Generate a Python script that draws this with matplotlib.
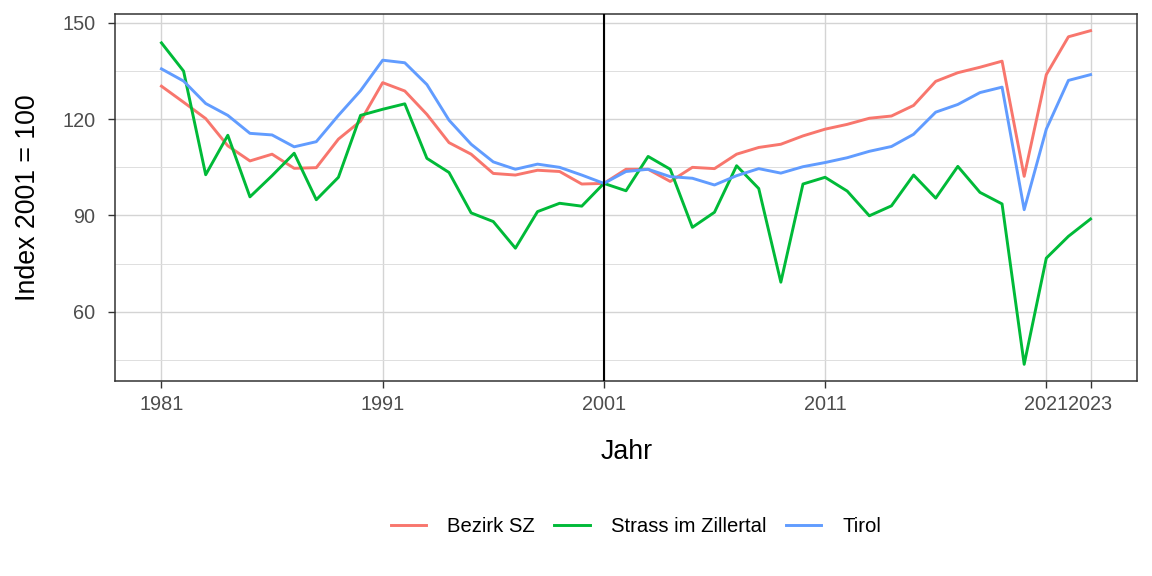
import matplotlib
matplotlib.use("Agg")
import matplotlib.pyplot as plt
from matplotlib.ticker import FixedLocator

years = list(range(1981, 2024))

bezirk_sz = [130.3, 125.3, 120.2, 111.7, 107.0, 109.1, 104.7, 104.9, 113.8, 119.4,
             131.4, 128.8, 121.5, 112.7, 109.1, 103.1, 102.6, 104.1, 103.7, 99.8,
             100.0, 104.4, 104.4, 100.6, 105.0, 104.6, 109.1, 111.2, 112.2, 114.8,
             116.9, 118.4, 120.3, 121.0, 124.3, 131.8, 134.5, 136.2, 138.1, 102.2,
             133.9, 145.7, 147.6]

strass = [143.8, 135.0, 102.7, 115.0, 95.8, 102.4, 109.4, 94.9, 101.9, 121.2,
          123.1, 124.8, 107.8, 103.4, 90.8, 88.1, 79.8, 91.2, 93.8, 92.9,
          100.0, 97.7, 108.4, 104.4, 86.3, 91.0, 105.5, 98.4, 69.2, 99.8,
          101.9, 97.6, 89.9, 93.0, 102.6, 95.4, 105.3, 97.2, 93.6, 43.6,
          76.7, 83.5, 88.9]

tirol = [135.7, 131.9, 124.9, 121.2, 115.6, 115.1, 111.4, 113.0, 121.2, 128.9,
         138.4, 137.6, 130.8, 119.7, 112.2, 106.7, 104.4, 106.0, 105.0, 102.6,
         100.0, 103.7, 104.4, 102.1, 101.6, 99.5, 102.4, 104.6, 103.2, 105.2,
         106.5, 108.0, 110.0, 111.5, 115.3, 122.2, 124.6, 128.3, 130.0, 91.8,
         116.9, 132.1, 133.9]

series_names = ["Bezirk SZ", "Strass im Zillertal", "Tirol"]
series_values = [bezirk_sz, strass, tirol]
colors = ["#F8766D", "#00BA38", "#619CFF"]

x_breaks = [1981, 1991, 2001, 2011, 2021, 2023]
y_breaks = [60, 90, 120, 150]
y_minor = [45, 75, 105, 135]
ref_year = 2001

plt.rcParams['font.family'] = ['Liberation Sans', 'DejaVu Sans']

W, H = 1152, 576
fig = plt.figure(figsize=(W/100, H/100), dpi=100)
left, right, top, bottom = 115, 1137, 14, 381
ax = fig.add_axes([left/W, 1-bottom/H, (right-left)/W, (bottom-top)/H])

for name, vals, c in zip(series_names, series_values, colors):
    ax.plot(years, vals, color=c, lw=2.1, label=name, solid_joinstyle='round', zorder=3)

ax.axvline(ref_year, color="black", lw=1.5, zorder=4)

ax.set_xlim(1978.9, 2025.1)
ax.set_ylim(38.4, 152.8)
ax.xaxis.set_major_locator(FixedLocator(x_breaks))
ax.yaxis.set_major_locator(FixedLocator(y_breaks))
ax.yaxis.set_minor_locator(FixedLocator(y_minor))
ax.set_xticklabels([str(v) for v in x_breaks])
ax.set_yticklabels([str(v) for v in y_breaks])

ax.grid(True, which='major', color='#D4D4D4', lw=1.0, zorder=0)
ax.grid(True, which='minor', axis='y', color='#DEDEDE', lw=0.7, zorder=0)
ax.set_axisbelow(True)

ax.tick_params(axis='both', which='major', length=4.8, width=1, color='#333333',
               labelsize=14.3, labelcolor='#4D4D4D')
ax.tick_params(axis='x', which='major', pad=5)
ax.tick_params(axis='y', which='major', pad=9.5)
ax.tick_params(axis='y', which='minor', length=0)
for s in ax.spines.values():
    s.set_color('#333333')
    s.set_linewidth(1.1)

ax.set_xlabel("Jahr", fontsize=19.3, color='black')
ax.set_ylabel("Index 2001 = 100", fontsize=19.3, color='black')
ax.xaxis.set_label_coords((627-left)/(right-left), (bottom-439)/(bottom-top))
ax.yaxis.set_label_coords((41-left)/(right-left), 0.5)

handles, labels = ax.get_legend_handles_labels()
fig.legend(handles, labels, loc='center', bbox_to_anchor=(636/W, 1-527/H), ncol=3,
           frameon=False, fontsize=14.6, handlelength=1.75, handletextpad=1.05,
           columnspacing=0.95)

fig.savefig("out.png", dpi=100)
